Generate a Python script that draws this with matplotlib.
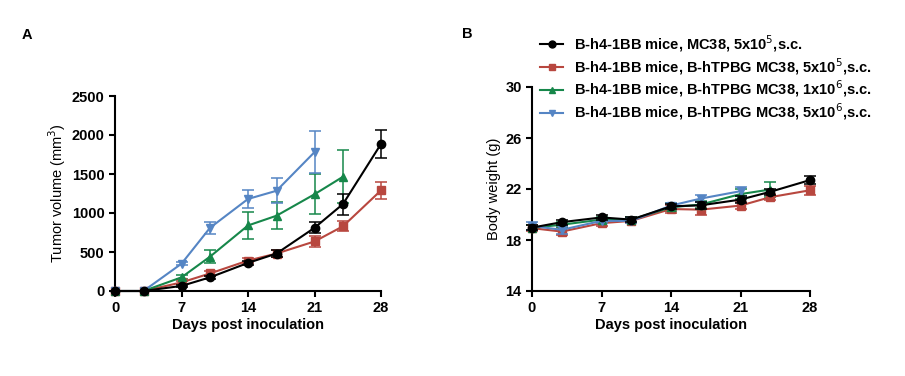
import matplotlib
matplotlib.use("Agg")
import matplotlib.pyplot as plt
from matplotlib.lines import Line2D

plt.rcParams['font.family'] = ['Liberation Sans', 'DejaVu Sans']

days_a = [0, 3, 7, 10, 14, 17, 21, 24, 28]
labels = ["B-h4-1BB mice, MC38, 5x10$^{5}$,s.c.",
          "B-h4-1BB mice, B-hTPBG MC38, 5x10$^{5}$,s.c.",
          "B-h4-1BB mice, B-hTPBG MC38, 1x10$^{6}$,s.c.",
          "B-h4-1BB mice, B-hTPBG MC38, 5x10$^{6}$,s.c."]
colors = ["#000000", "#B8473F", "#16874A", "#5585C4"]
markers = ["o", "s", "^", "v"]

# Tumor volume (mm3)
tv_black = [0, 0, 65, 175, 360, 480, 810, 1115, 1885]
tv_black_err = [0, 0, 15, 20, 30, 40, 70, 135, 180]
tv_red = [0, 0, 110, 225, 390, 480, 635, 830, 1290]
tv_red_err = [0, 0, 20, 30, 30, 40, 65, 65, 110]
tv_green = [0, 0, 175, 440, 840, 965, 1240, 1465]
tv_green_err = [0, 0, 25, 80, 170, 170, 255, 340]
tv_blue = [0, 0, 350, 810, 1180, 1285, 1780]
tv_blue_err = [0, 0, 20, 75, 120, 160, 265]

# Body weight (g)
bw_black = [18.97, 19.4, 19.77, 19.6, 20.64, 20.72, 21.17, 21.78, 22.7]
bw_black_err = [0.2, 0.2, 0.2, 0.2, 0.2, 0.25, 0.25, 0.25, 0.3]
bw_red = [18.93, 18.66, 19.32, 19.5, 20.43, 20.38, 20.7, 21.36, 21.9]
bw_red_err = [0.25, 0.3, 0.2, 0.2, 0.3, 0.4, 0.3, 0.25, 0.35]
bw_green = [18.95, 19.2, 19.6, 19.6, 20.57, 20.78, 21.6, 21.96]
bw_green_err = [0.2, 0.2, 0.2, 0.2, 0.3, 0.3, 0.4, 0.6]
bw_blue = [19.1, 18.8, 19.5, 19.5, 20.7, 21.25, 21.83]
bw_blue_err = [0.3, 0.3, 0.2, 0.2, 0.2, 0.25, 0.35]

tv = [(tv_black, tv_black_err), (tv_red, tv_red_err), (tv_green, tv_green_err), (tv_blue, tv_blue_err)]
bw = [(bw_black, bw_black_err), (bw_red, bw_red_err), (bw_green, bw_green_err), (bw_blue, bw_blue_err)]

FS = 10.5

fig = plt.figure(figsize=(9.05, 3.76), dpi=100)
axA = fig.add_axes([115/905, 1-291/376, (381-115)/905, (291-96)/376])
axB = fig.add_axes([532/905, 1-291/376, (810-532)/905, (291-87)/376])

def draw(ax, data, order):
    for i in order:
        y, e = data[i]
        x = days_a[:len(y)]
        ax.errorbar(x, y, yerr=e, color=colors[i], marker=markers[i], ms=6,
                    lw=1.5, elinewidth=1.1, capsize=4, capthick=1.1,
                    clip_on=False, zorder=3 + i * 0.1 if i != 0 else 3.5)

draw(axA, tv, [3, 2, 0, 1])
draw(axB, bw, [3, 2, 0, 1])

for ax in (axA, axB):
    for s in ('top', 'right'):
        ax.spines[s].set_visible(False)
    for s in ('left', 'bottom'):
        ax.spines[s].set_linewidth(1.5)
    ax.tick_params(width=1.5, length=4, labelsize=FS)
    ax.set_xlim(0, 28)
    ax.set_xticks([0, 7, 14, 21, 28])
    ax.set_xlabel("Days post inoculation", fontsize=FS, fontweight='bold', labelpad=2)

axA.set_ylim(0, 2500)
axA.set_yticks([0, 500, 1000, 1500, 2000, 2500])
axA.set_ylabel("Tumor volume (mm$^{3}$)", fontsize=FS, labelpad=3)
axB.set_ylim(14, 30)
axB.set_yticks([14, 18, 22, 26, 30])
axB.set_ylabel("Body weight (g)", fontsize=FS, labelpad=3)
for ax in (axA, axB):
    for t in ax.get_xticklabels() + ax.get_yticklabels():
        t.set_fontweight('bold')

handles = [Line2D([], [], color=colors[i], marker=markers[i], ms=5, lw=1.5) for i in range(4)]
fig.legend(handles, labels, loc='upper left', bbox_to_anchor=(540/905, 1-33/376),
           frameon=False, prop={'weight': 'bold', 'size': FS},
           handlelength=1.6, handletextpad=0.75, labelspacing=0.15, borderaxespad=0,
           borderpad=0)

fig.text(22/905, 1-35/376, "A", fontsize=FS, fontweight='bold', va='center')
fig.text(462/905, 1-34/376, "B", fontsize=FS, fontweight='bold', va='center')

fig.savefig("out.png", dpi=100)
